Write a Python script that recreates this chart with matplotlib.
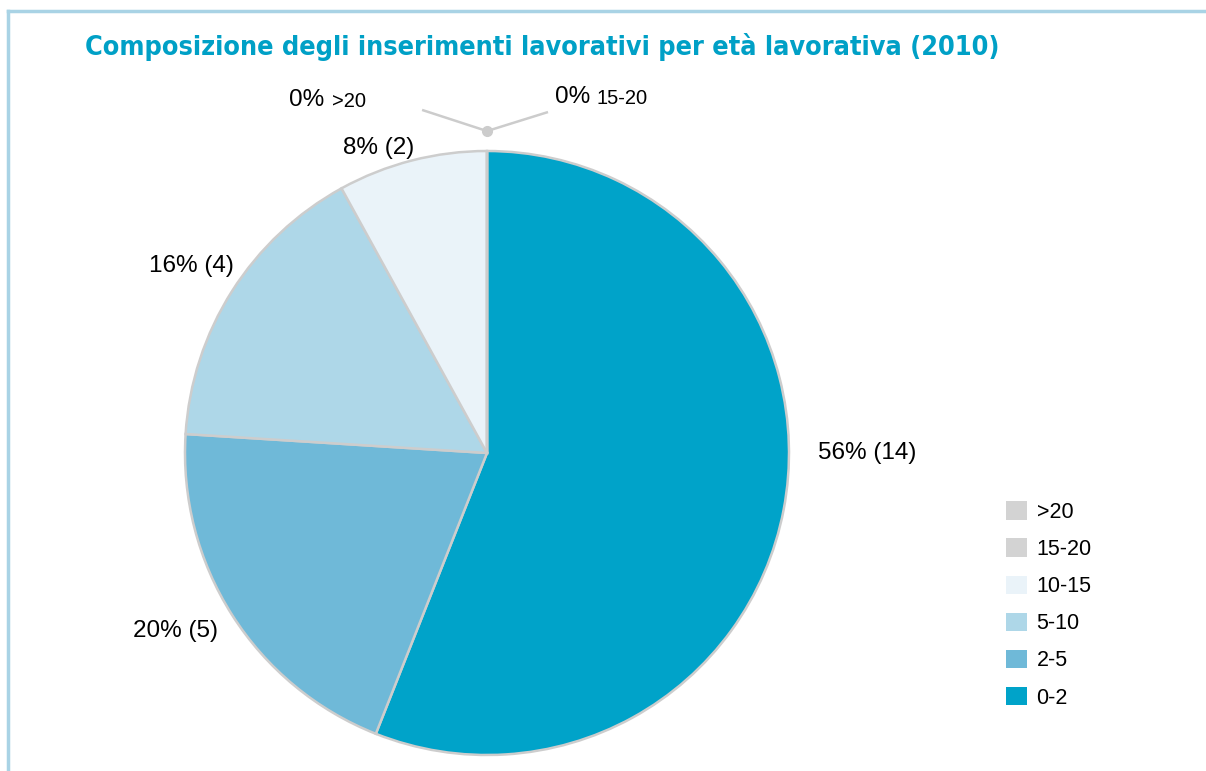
import matplotlib
matplotlib.use('Agg')
from matplotlib import pyplot as plt
from matplotlib.patches import Patch
from matplotlib.lines import Line2D

# fasce di età lavorativa (anni) e numero di inserimenti, 2010
fasce = ['0-2', '2-5', '5-10', '10-15', '15-20', '>20']
inserimenti = [14, 5, 4, 2, 0, 0]
colori = ['#00a3c9', '#6fb9d8', '#aed7e8', '#eaf3f9', '#d3d3d3', '#d3d3d3']

titolo = 'Composizione degli inserimenti lavorativi per età lavorativa (2010)'

W, H = 1206, 771
fig = plt.figure(figsize=(W / 100, H / 100), dpi=100)
ax = fig.add_axes([0, 0, 1, 1])

wedges, _ = ax.pie(inserimenti, colors=colori, startangle=90, counterclock=False,
                   radius=1.0,
                   wedgeprops=dict(edgecolor='#cdcdcd', linewidth=1.8))

# center at (487, 453) px, radius 302 px
cx, cy, R = 487, 453, 302
ax.set_xlim(-cx / R, (W - cx) / R)
ax.set_ylim((cy - H) / R, cy / R)
ax.set_aspect('equal')
ax.axis('off')

totale = sum(inserimenti)
pos_etichette = {
    '0-2': (1.26, 0.0),
    '2-5': (-1.03, -0.59),
    '5-10': (-0.98, 0.62),
    '10-15': (-0.36, 1.01),
}
fnt = 'Liberation Sans'
for f, v in zip(fasce, inserimenti):
    if f in pos_etichette:
        x, y = pos_etichette[f]
        ax.text(x, y, f'{round(100 * v / totale)}% ({v})', ha='center', va='center',
                fontsize=17.5, family=fnt, color='black')

# zero slices: leader lines from a small dot above the pie
dot = (0, 1.066)
ax.plot([-0.215, dot[0], 0.202], [1.136, dot[1], 1.129], color='#cccccc', lw=1.8,
        solid_capstyle='butt', zorder=3)
ax.plot(*dot, 'o', ms=7, color='#cccccc', zorder=4)
for i, (xp, xc, y) in ((5, (-0.540, -0.513, 1.169)), (4, (0.341, 0.364, 1.179))):
    ax.text(xp, y, f'{round(100 * inserimenti[i] / totale)}%', ha='right', va='center',
            fontsize=17.5, family=fnt, color='black')
    ax.text(xc, y - 0.005, fasce[i], ha='left', va='center', fontsize=14.5, family=fnt,
            color='black')

# legend, from >20 down to 0-2
handles = [Patch(facecolor=c, edgecolor='none') for c in colori[::-1]]
leg = fig.legend(handles, fasce[::-1], loc='upper left',
                 bbox_to_anchor=(987 / W, 1 - 482 / H),
                 frameon=False, handlelength=0.95, handleheight=0.95, handletextpad=0.45,
                 labelspacing=0.716, prop=dict(family=fnt, size=15.5))

fig.text(85 / W, 1 - 47 / H, titolo, ha='left', va='center', fontsize=19.4, fontweight='bold',
         family='DejaVu Sans', fontstretch='condensed', color='#00a0c6')

# light blue frame on top and left side
bordo = '#a9d3e5'
fig.add_artist(Line2D([8 / W, 1], [1 - 11 / H, 1 - 11 / H], color=bordo, lw=2.5))
fig.add_artist(Line2D([8 / W, 8 / W], [0, 1 - 11 / H], color=bordo, lw=2.5))

fig.savefig('out.png', dpi=100)
